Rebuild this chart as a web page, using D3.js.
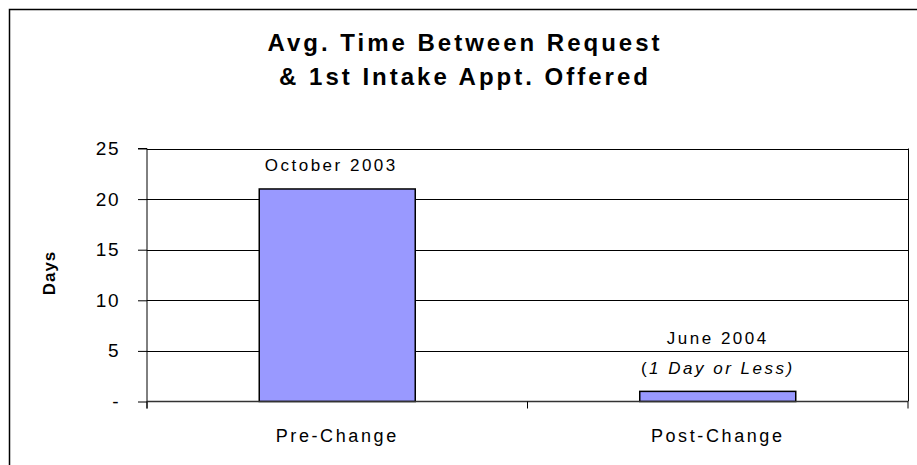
<!DOCTYPE html>
<html><head><meta charset="utf-8">
<script src="https://cdn.jsdelivr.net/npm/d3@7"></script>
<style>body{margin:0;background:#fff;} svg{font-family:"Liberation Sans",Arial,sans-serif;}</style>
</head><body><svg id="c" width="917" height="465"></svg>
<script>
const categories = ["Pre-Change", "Post-Change"];
const values = [21, 1];
const barLabels = ["October 2003", "June 2004"];
const yTicks = [0, 5, 10, 15, 20, 25];
const titleLines = ["Avg. Time Between Request", "& 1st Intake Appt. Offered"];

const svg = d3.select("#c");
const m = {l:147, r:908, t:148.5, b:401.5};
svg.append("path").attr("d","M9.5,465 V9.5 H917").attr("fill","none").attr("stroke","#000").attr("stroke-width",1.5);

const x = d3.scaleBand().domain(categories).range([m.l, m.r]).paddingInner(0.59).paddingOuter(0.295);
const y = d3.scaleLinear().domain([0,25]).range([m.b, m.t]);

// gridlines
svg.append("g").selectAll("line").data(yTicks.filter(d=>d>0)).join("line")
  .attr("x1",m.l).attr("x2",m.r).attr("y1",d=>Math.round(y(d))+0.5).attr("y2",d=>Math.round(y(d))+0.5)
  .attr("stroke","#000").attr("stroke-width",1);
// right border
svg.append("line").attr("x1",m.r+0.5).attr("x2",m.r+0.5).attr("y1",m.t).attr("y2",m.b).attr("stroke","#000");

// bars
svg.append("g").selectAll("rect").data(values).join("rect")
  .attr("x",(d,i)=>x(categories[i])).attr("width",x.bandwidth())
  .attr("y",d=>y(d)).attr("height",d=>y(0)-y(d))
  .attr("fill","#9999ff").attr("stroke","#000").attr("stroke-width",1.5);

// y axis
const yAxis = d3.axisLeft(y).tickValues(yTicks).tickSize(9).tickPadding(18)
  .tickFormat(d=>d===0?"-":d);
const ga = svg.append("g").attr("transform",`translate(${m.l},0)`).call(yAxis);
ga.selectAll("text").attr("font-size",19).attr("letter-spacing",1.5).attr("fill","#000").attr("font-family","Liberation Sans, Arial, sans-serif");
ga.selectAll("line,path").attr("stroke","#000");
ga.select(".domain").attr("d",`M-9,${m.t}H0V${m.b+7}`);

// x axis
const gx = svg.append("g").attr("transform",`translate(0,${m.b})`);
gx.append("line").attr("x1",m.l).attr("x2",m.r).attr("stroke","#333").attr("stroke-width",1.5);
const xt = [m.l, (m.l+m.r)/2, m.r];
gx.selectAll("line.t").data(xt).join("line").attr("class","t").attr("x1",d=>d).attr("x2",d=>d).attr("y1",0).attr("y2",7).attr("stroke","#000");
gx.selectAll("text").data(categories).join("text")
  .attr("x",d=>x(d)+x.bandwidth()/2).attr("y",40).attr("text-anchor","middle")
  .attr("font-size",18).attr("letter-spacing",2.6).text(d=>d);

// bar labels
svg.append("g").selectAll("text").data(values).join("text")
  .attr("x",(d,i)=>x(categories[i])+x.bandwidth()/2 - (i===0?6:0))
  .attr("y",(d,i)=> i===0 ? y(d)-18 : y(d)-47)
  .attr("text-anchor","middle").attr("font-size",17).attr("letter-spacing",2.5)
  .text((d,i)=>barLabels[i]);
const sub = svg.append("text").attr("x",x(categories[1])+x.bandwidth()/2).attr("y",y(values[1])-17)
  .attr("text-anchor","middle").attr("font-size",17).attr("letter-spacing",2.5);
sub.append("tspan").text("(");
sub.append("tspan").attr("font-style","italic").text("1 Day or Less)");

// y title
svg.append("text").attr("transform","translate(55,273) rotate(-90)").attr("text-anchor","middle")
  .attr("font-size",17).attr("font-weight","bold").attr("letter-spacing",1).text("Days");

// title
svg.append("g").selectAll("text").data(titleLines).join("text")
  .attr("x",465).attr("y",(d,i)=>51+i*34).attr("text-anchor","middle")
  .attr("font-size",24).attr("font-weight","bold").attr("letter-spacing",3).text(d=>d);
</script></body></html>
